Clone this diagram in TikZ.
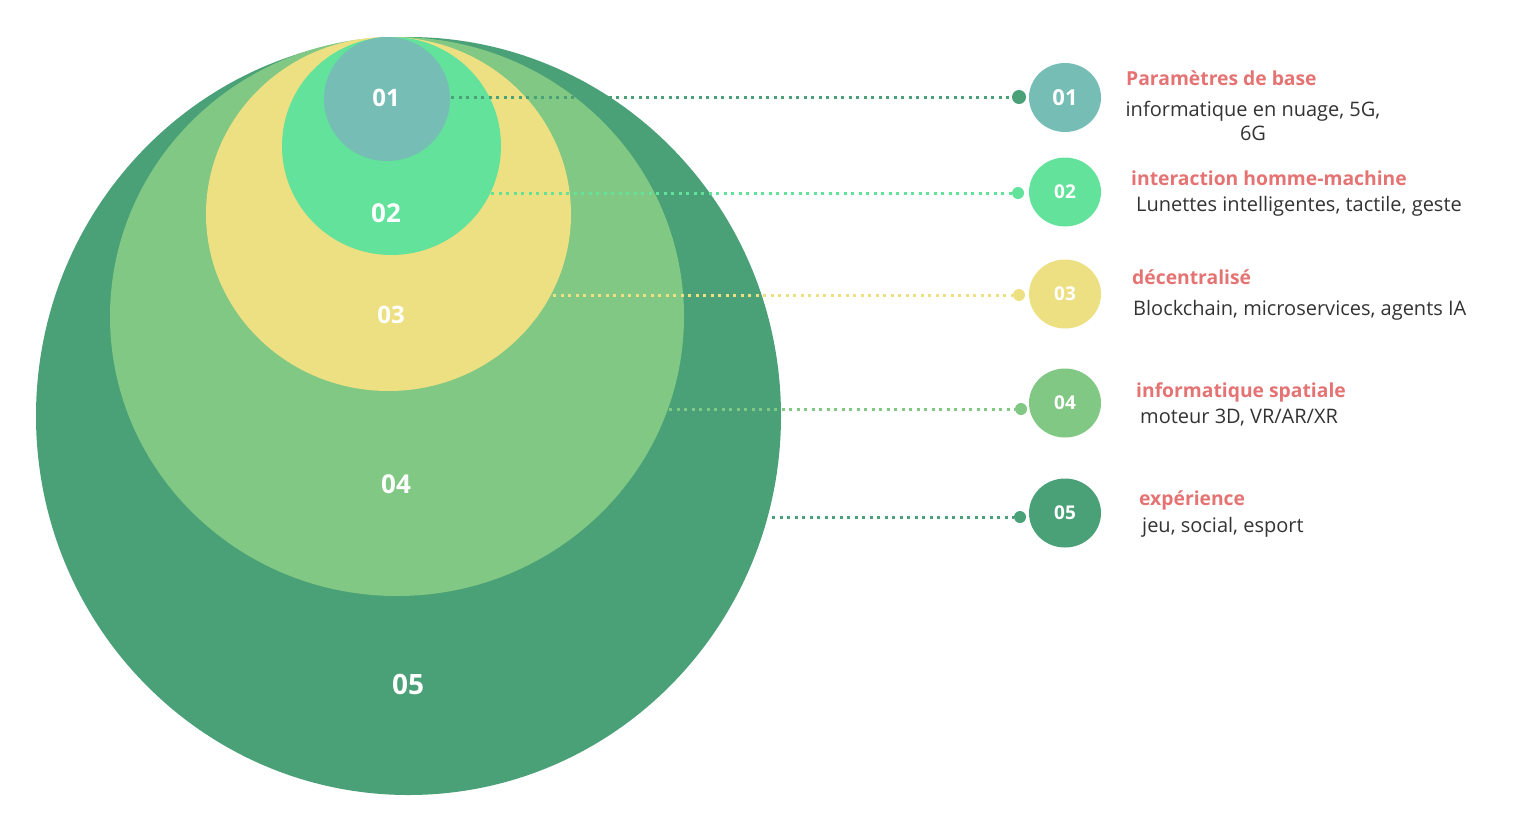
\documentclass[tikz,border=0pt]{standalone}
\usepackage{fontspec}
\setmainfont{Open Sans}
\usetikzlibrary{shapes.geometric}
\definecolor{cfive}{HTML}{4AA077}
\definecolor{cfour}{HTML}{80C883}
\definecolor{cthree}{HTML}{ECE083}
\definecolor{ctwo}{HTML}{62E29A}
\definecolor{cone}{HTML}{75BDB5}
\definecolor{ctitle}{HTML}{E57373}
\definecolor{cbody}{HTML}{333333}
\tikzset{
  ring/.style={ellipse, inner sep=0pt, draw=none},
  bignum/.style={text=white, font=\bfseries\fontsize{24}{28}\selectfont},
  link/.style={line width=3pt, dash pattern=on 3pt off 4.5pt},
  enddot/.style={circle, inner sep=0pt, minimum size=12pt},
  badge/.style={ellipse, inner sep=0pt, minimum width=72pt, minimum height=69pt, text=white, font=\bfseries\fontsize{19}{22}\selectfont},
  ttl/.style={anchor=base west, inner sep=0pt, text=ctitle, font=\bfseries\fontsize{19.3}{22}\selectfont},
  bdy/.style={anchor=base west, inner sep=0pt, text=cbody, font=\fontsize{20}{23.5}\selectfont},
}
\begin{document}
\begin{tikzpicture}[x=1pt,y=-1pt]
\useasboundingbox (0,0) rectangle (1526,831);
% nested ellipses
\node[ring, fill=cfive, minimum width=745pt, minimum height=758pt] (e5) at (408.5,416) {};
\node[ring, fill=cfour, minimum width=574pt, minimum height=559pt] (e4) at (397,316.5) {};
\node[ring, fill=cthree, minimum width=365pt, minimum height=354pt] (e3) at (388.5,214) {};
\node[ring, fill=ctwo, minimum width=219pt, minimum height=218pt] (e2) at (391.5,146) {};
\node[ring, fill=cone, minimum width=126pt, minimum height=124pt] (e1) at (387,99) {};
% labels
\node[bignum] (l1) at (386,98) {01};
\node[bignum, font=\bfseries\fontsize{26}{30}\selectfont] (l2) at (386,213) {02};
\node[bignum] (l3) at (391,315) {03};
\node[bignum, font=\bfseries\fontsize{26}{30}\selectfont] (l4) at (396,484) {04};
\node[bignum, font=\bfseries\fontsize{28}{32}\selectfont] (l5) at (408,684) {05};
% start points on ellipse boundaries
\coordinate (s1) at (451,97);
\coordinate (s2) at (491,193);
\coordinate (s3) at (553,295);
\coordinate (s4) at (669,409);
\coordinate (s5) at (772,517);
% end dots
\node[enddot, fill=cfive, minimum size=14pt] (d1) at (1019,97) {};
\node[enddot, fill=ctwo] (d2) at (1018,193) {};
\node[enddot, fill=cthree] (d3) at (1019,295) {};
\node[enddot, fill=cfour] (d4) at (1021,409) {};
\node[enddot, fill=cfive] (d5) at (1020,517) {};
% connectors
\draw[link, cfive] (s1) -- (d1);
\draw[link, ctwo] (s2) -- (d2);
\draw[link, cthree] (s3) -- (d3);
\draw[link, cfour] (s4) -- (d4);
\draw[link, cfive] (s5) -- (d5);
% badges
\node[badge, fill=cone, font=\bfseries\fontsize{22}{26}\selectfont] (b1) at (1065,97.5) {01};
\node[badge, fill=ctwo] (b2) at (1065,192) {02};
\node[badge, fill=cthree] (b3) at (1065,294) {03};
\node[badge, fill=cfour] (b4) at (1065,403) {04};
\node[badge, fill=cfive] (b5) at (1065,513) {05};
% texts
\node[ttl] (t1) at (1126,85.5) {Paramètres de base};
\node[bdy, anchor=base, align=center] (p1) at (1253,140) {informatique en nuage, 5G,\\6G};
\node[ttl] (t2) at (1131,185) {interaction homme-machine};
\node[bdy] (p2) at (1136,211) {Lunettes intelligentes, tactile, geste};
\node[ttl] (t3) at (1132,284.5) {décentralisé};
\node[bdy] (p3) at (1133,315) {Blockchain, microservices, agents IA};
\node[ttl] (t4) at (1136,397.5) {informatique spatiale};
\node[bdy] (p4) at (1140,423.5) {moteur 3D, VR/AR/XR};
\node[ttl] (t5) at (1139,505) {expérience};
\node[bdy] (p5) at (1142,532.5) {jeu, social, esport};
\end{tikzpicture}
\end{document}
